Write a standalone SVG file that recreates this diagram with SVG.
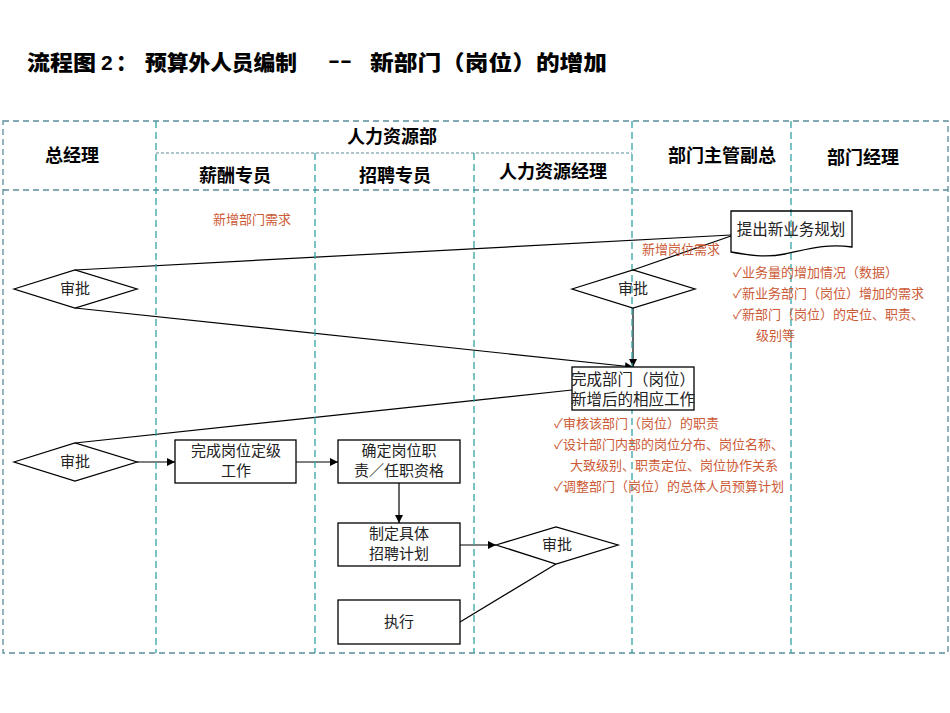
<svg xmlns="http://www.w3.org/2000/svg" width="950" height="713" viewBox="0 0 950 713">
<style>
.title{font-family:"Noto Sans CJK SC","Liberation Sans",sans-serif;font-weight:900;font-size:21px;fill:#000}
.hdr{font-family:"Noto Sans CJK SC","Liberation Sans",sans-serif;font-weight:bold;font-size:18px;fill:#000;text-anchor:middle}
.nt{font-family:"Noto Sans CJK SC",sans-serif;font-size:15px;fill:#222;text-anchor:middle}
.lbl{font-family:"Noto Sans CJK SC",sans-serif;font-size:13px;fill:#cc5a36}
.outer{fill:none;stroke:#5b8d99;stroke-width:1.3;stroke-dasharray:6,4}
.lane{fill:none;stroke:#34a3a6;stroke-width:1.3;stroke-dasharray:7,4}
.sub{fill:none;stroke:#5b8d99;stroke-width:1.2;stroke-dasharray:3,2}
.shape{fill:#fff;stroke:#000;stroke-width:1.3}
.conn{fill:none;stroke:#000;stroke-width:1.2}
</style>
<defs>
<marker id="arr" viewBox="0 0 10 10" refX="10" refY="5" markerWidth="8" markerHeight="8" markerUnits="userSpaceOnUse" orient="auto">
<path d="M0,0 L10,5 L0,10 Z" fill="#000"/>
</marker>
</defs>
<rect width="950" height="713" fill="#fff"/>
<g id="title">
<text class="title" x="27" y="70" textLength="69" lengthAdjust="spacingAndGlyphs">流程图</text>
<text class="title" x="101" y="70" style="font-family:'Liberation Sans',sans-serif;font-weight:bold">2</text>
<text class="title" x="116" y="70">：</text>
<text class="title" x="145" y="70" textLength="152" lengthAdjust="spacingAndGlyphs">预算外人员编制</text>
<text class="title" x="328" y="67" textLength="24" lengthAdjust="spacingAndGlyphs" style="font-family:'Liberation Sans',sans-serif;font-weight:bold">--</text>
<text class="title" x="370" y="70" textLength="237" lengthAdjust="spacingAndGlyphs">新部门（岗位）的增加</text>
</g>
<g id="connectors">
<path class="conn" d="M731,235 L75,270"/>
<path class="conn" d="M731,236 L633,270"/>
<path class="conn" d="M75,308 L633,367" marker-end="url(#arr)"/>
<path class="conn" d="M633,308 L633,367" marker-end="url(#arr)"/>
<path class="conn" d="M572,390 L75,443"/>
<path class="conn" d="M137,462 L175,462" marker-end="url(#arr)"/>
<path class="conn" d="M296,462 L338,462" marker-end="url(#arr)"/>
<path class="conn" d="M399,483 L399,523" marker-end="url(#arr)"/>
<path class="conn" d="M460,545 L496,545" marker-end="url(#arr)"/>
<path class="conn" d="M556,564 L460,622"/>
</g>
<g id="swimlanes">
<rect class="outer" x="3" y="121" width="945" height="532"/>
<line class="outer" x1="3" y1="190" x2="948" y2="190"/>
<line class="sub" x1="156" y1="153" x2="632" y2="153"/>
<line class="lane" x1="156" y1="121" x2="156" y2="653"/>
<line class="lane" x1="315" y1="153" x2="315" y2="653"/>
<line class="lane" x1="474" y1="153" x2="474" y2="653"/>
<line class="lane" x1="632" y1="121" x2="632" y2="653"/>
<line class="lane" x1="791" y1="121" x2="791" y2="653"/>
<text class="hdr" x="72" y="162">总经理</text>
<text class="hdr" x="392" y="143">人力资源部</text>
<text class="hdr" x="235" y="182">薪酬专员</text>
<text class="hdr" x="395" y="182">招聘专员</text>
<text class="hdr" x="553" y="178">人力资源经理</text>
<text class="hdr" x="722" y="162">部门主管副总</text>
<text class="hdr" x="863" y="164">部门经理</text>
</g>
<g id="n-plan">
<path class="shape" style="fill:none" d="M731,211 H852 V247 C825,243 805,250 785,254 C765,258 748,255 731,252 Z"/>
<text class="nt" x="791" y="235" style="font-size:15.5px">提出新业务规划</text>
</g>
<g id="n-approve1">
<path class="shape" d="M14,289 L75,270 L137,289 L75,308 Z"/>
<text class="nt" x="75" y="294">审批</text>
</g>
<g id="n-approve2">
<path class="shape" style="fill:none" d="M572,289 L633,270 L695,289 L633,308 Z"/>
<text class="nt" x="633" y="294">审批</text>
</g>
<g id="n-complete-dept">
<rect class="shape" x="572" y="367" width="122" height="43"/>
<text class="nt" x="571" y="385" style="text-anchor:start;font-size:15.5px">完成部门（岗位）</text>
<text class="nt" x="571" y="405" style="text-anchor:start;font-size:15.5px">新增后的相应工作</text>
</g>
<g id="n-approve3">
<path class="shape" d="M14,462 L75,443 L137,462 L75,481 Z"/>
<text class="nt" x="75" y="467">审批</text>
</g>
<g id="n-grading">
<rect class="shape" x="175" y="440" width="121" height="43"/>
<text class="nt" x="236" y="456">完成岗位定级</text>
<text class="nt" x="236" y="476">工作</text>
</g>
<g id="n-duties">
<rect class="shape" x="338" y="440" width="122" height="43"/>
<text class="nt" x="399" y="456">确定岗位职</text>
<text class="nt" x="399" y="476">责／任职资格</text>
</g>
<g id="n-recruit-plan">
<rect class="shape" x="338" y="523" width="122" height="43"/>
<text class="nt" x="399" y="539">制定具体</text>
<text class="nt" x="399" y="559">招聘计划</text>
</g>
<g id="n-approve4">
<path class="shape" d="M496,545 L556,527 L618,545 L556,564 Z"/>
<text class="nt" x="557" y="550">审批</text>
</g>
<g id="n-execute">
<rect class="shape" x="338" y="600" width="122" height="44"/>
<text class="nt" x="399" y="627">执行</text>
</g>
<g id="labels">
<text class="lbl" x="213" y="224">新增部门需求</text>
<text class="lbl" x="642" y="254">新增岗位需求</text>
<text class="lbl" x="733" y="277">✓业务量的增加情况（数据）</text>
<text class="lbl" x="733" y="298">✓新业务部门（岗位）增加的需求</text>
<text class="lbl" x="733" y="319">✓新部门（岗位）的定位、职责、</text>
<text class="lbl" x="756" y="340">级别等</text>
<text class="lbl" x="554" y="428">✓审核该部门（岗位）的职责</text>
<text class="lbl" x="554" y="449">✓设计部门内部的岗位分布、岗位名称、</text>
<text class="lbl" x="570" y="470">大致级别、职责定位、岗位协作关系</text>
<text class="lbl" x="554" y="491">✓调整部门（岗位）的总体人员预算计划</text>
</g>
</svg>
